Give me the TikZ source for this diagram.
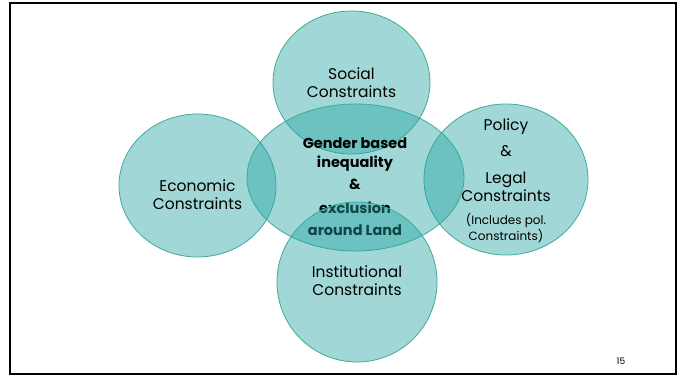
\documentclass[tikz,border=0pt]{standalone}
\usepackage{fontspec}
\setmainfont{Poppins}
\usetikzlibrary{shapes.geometric}

\definecolor{blobfill}{RGB}{38,163,163}
\definecolor{blobline}{RGB}{61,171,152}

\begin{document}
\begin{tikzpicture}[
  x=1pt, y=-1pt,
  blob/.style={ellipse, draw=blobline, line width=0.8pt, fill=blobfill, fill opacity=0.43, inner sep=0pt},
  tag/.style={align=center, text=black, inner sep=0pt, font=\fontsize{15.5}{17.5}\selectfont},
  small/.style={align=center, text=black, inner sep=0pt, font=\fontsize{12}{16}\selectfont},
  core/.style={align=center, text=black, inner sep=0pt, font=\bfseries\fontsize{14.5}{19}\selectfont},
]
\useasboundingbox (0,0) rectangle (683,377);
\draw[line width=2pt] (10,3) rectangle (676,374);

% Social constraints
\node[blob, minimum width=157pt, minimum height=143pt] (social) at (351.5,82.5) {};
\node[tag] (sociallbl) at (social.center) {Social\\Constraints};

% Economic constraints
\node[blob, minimum width=157pt, minimum height=143pt] (econ) at (197.5,185.5) {};
\node[tag] (econlbl) at (197.5,194.5) {Economic\\Constraints};

% Policy & legal constraints
\node[blob, minimum width=164pt, minimum height=151pt] (policy) at (506,179.5) {};
\node[tag] (policylbl) at (506,160) {Policy\\[8pt]\&\\[10pt]Legal\\Constraints};
\node[small] (policynote) at (506,228) {(Includes pol.\\Constraints)};

% Gender based inequality (centre)
\node[blob, minimum width=217pt, minimum height=147pt] (core) at (355.5,177.5) {};
\node[core] (corelbl) at (355,186.5) {Gender based\\inequality\\[3pt]\&\\[5pt]exclusion\\[3pt]around Land};

% Institutional constraints
\node[blob, minimum width=160pt, minimum height=160pt] (inst) at (357,282) {};
\node[tag] (instlbl) at (357,280.5) {Institutional\\Constraints};

% slide number
\node[font=\fontsize{9}{11}\selectfont, inner sep=0pt] (pagenum) at (621,361) {15};
\end{tikzpicture}
\end{document}
